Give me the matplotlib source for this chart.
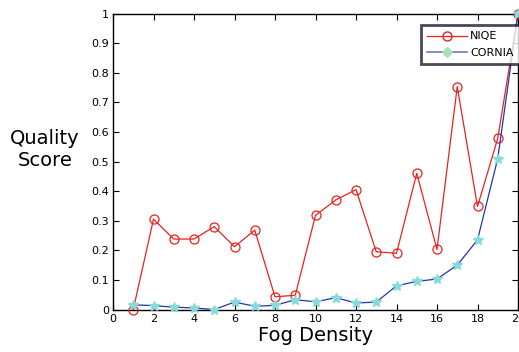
import numpy as np
import matplotlib.pyplot as plt
from matplotlib.lines import Line2D

# fog density levels
fog = np.arange(1, 21)

# normalised quality scores
niqe = [0.0, 0.305, 0.238, 0.238, 0.28, 0.212, 0.268, 0.043, 0.048, 0.318,
        0.37, 0.405, 0.195, 0.19, 0.46, 0.203, 0.753, 0.348, 0.578, 1.0]
cornia = [0.016, 0.013, 0.008, 0.005, 0.0, 0.025, 0.011, 0.014, 0.033, 0.026,
          0.04, 0.022, 0.025, 0.08, 0.095, 0.103, 0.15, 0.235, 0.51, 1.0]

xticks = np.arange(0, 21, 2)
yticks = np.round(np.arange(0, 1.01, 0.1), 1)
ytick_labels = ["0"] + [f"{v:g}" for v in yticks[1:]]

fig = plt.figure(figsize=(5.19, 3.52), dpi=100)
ax = fig.add_axes([113 / 519, 1 - 309.5 / 352, 405 / 519, 296 / 352])

ax.plot(fog, niqe, color="#e8231f", lw=0.9, marker="o", ms=6.5,
        mfc="none", mec="#e8231f", mew=0.9, clip_on=False, zorder=3)
ax.plot(fog, cornia, color="#2336a8", lw=0.9, marker="*", ms=7,
        mfc="#86dada", mec="#86dada", clip_on=False, zorder=3)

ax.set_xlim(0, 20)
ax.set_ylim(0, 1)
ax.set_xticks(xticks)
ax.set_yticks(yticks)
ax.set_yticklabels(ytick_labels)
ax.tick_params(direction="in", top=True, right=True, labelsize=8, length=4, pad=3)
for s in ax.spines.values():
    s.set_linewidth(1.0)

ax.set_xlabel("Fog Density", fontsize=14, labelpad=2)
fig.text(45 / 519, 1 - 150 / 352, "Quality\nScore", fontsize=14,
         ha="center", va="center", linespacing=1.2)

# legend (diamonds in legend as in reference)
handles = [
    Line2D([], [], color="#e8231f", lw=0.9, marker="o", ms=6.5, mfc="none", mec="#e8231f"),
    Line2D([], [], color="#6c79c8", lw=1.2, marker="D", ms=5, mfc="#a8e0b8", mec="#a8e0b8"),
]
leg = ax.legend(handles, ["NIQE", "CORNIA"], loc="upper left",
                bbox_to_anchor=(0.76, 0.96), fontsize=8, frameon=True,
                fancybox=False, handlelength=3.6, borderpad=0.55,
                labelspacing=0.6, handletextpad=0.3, borderaxespad=0)
leg.get_frame().set_edgecolor("#1a1a2e")
leg.get_frame().set_linewidth(2.0)

fig.savefig("out.png", dpi=100)
